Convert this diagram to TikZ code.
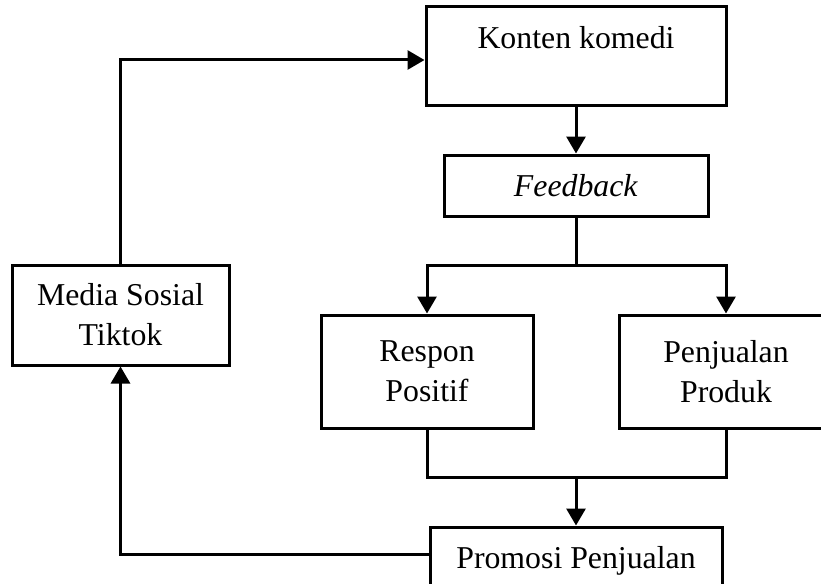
\documentclass[tikz,border=0pt]{standalone}
\usepackage{fontspec}
\setmainfont{Liberation Serif}
\usetikzlibrary{arrows.meta}
\begin{document}
\begin{tikzpicture}[x=1pt,y=-1pt,
 box/.style={draw, line width=3pt, rectangle, inner sep=0pt, align=center, font=\fontsize{31.8}{40}\selectfont},
 txt/.style={inner sep=0pt, font=\fontsize{31.8}{40}\selectfont},
 conn/.style={line width=3pt},
 arr/.style={conn, -{Triangle[length=17pt,width=19pt]}}]
\useasboundingbox (0,0) rectangle (821,583);
\clip (0,0) rectangle (821,583);
\node[box, minimum width=300pt, minimum height=99pt] (konten) at (576,56.5) {};
\node[txt, anchor=base] (kontenT) at (576,49) {Konten komedi};
\node[box, minimum width=264pt, minimum height=61pt] (feed) at (576,185.5) {\textit{Feedback}};
\node[box, minimum width=217pt, minimum height=100pt] (media) at (120.5,315) {Media Sosial\\Tiktok};
\node[box, minimum width=212pt, minimum height=113pt] (respon) at (427,371.5) {Respon\\Positif};
\node[box, minimum width=214pt, minimum height=113pt] (jual) at (726,371.5) {Penjualan\\Produk};
\node[box, minimum width=292pt, minimum height=80pt] (promo) at (576,567) {};
\node[txt, anchor=base] (promoT) at (576,568) {Promosi Penjualan};
\coordinate (split) at (576,265);
\coordinate (merge) at (576,477);
\draw[arr] (konten.south) -- (feed.north);
\draw[conn] (feed.south) -- (split);
\draw[arr] (split) -| (respon.north);
\draw[arr] (split) -| (jual.north);
\draw[conn] (respon.south) |- (merge);
\draw[conn] (jual.south) |- (merge);
\draw[arr] (merge) -- (promo.north);
\draw[arr] (media.north) |- ([yshift=-3.5pt]konten.west);
\draw[arr] ([yshift=13pt]promo.west) -| (media.south);
\end{tikzpicture}
\end{document}
